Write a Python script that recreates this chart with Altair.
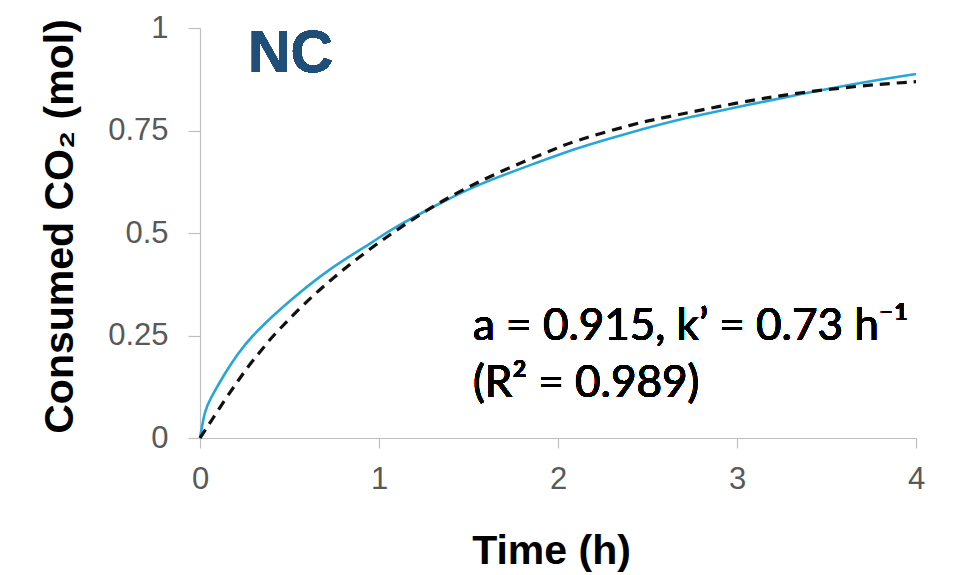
import altair as alt
import pandas as pd

# Measured CO2 consumption (solid blue)
meas_time = [0, 0.026, 0.063, 0.138, 0.212, 0.297, 0.409, 0.52, 0.669, 0.818, 0.967,
             1.097, 1.34, 1.562, 1.841, 2.12, 2.398, 2.677, 2.99, 3.36, 3.73, 4.0]
meas_co2 = [0, 0.059, 0.099, 0.156, 0.205, 0.250, 0.298, 0.341, 0.393, 0.438, 0.479,
            0.515, 0.572, 0.618, 0.665, 0.708, 0.744, 0.776, 0.806, 0.839, 0.869, 0.888]

# First-order kinetic fit (dashed black)
fit_time = [0, 0.063, 0.138, 0.212, 0.287, 0.361, 0.418, 0.558, 0.725, 0.893, 1.079,
            1.34, 1.657, 1.955, 2.12, 2.398, 2.62, 2.99, 3.36, 3.73, 4.0]
fit_co2 = [0, 0.042, 0.092, 0.139, 0.184, 0.224, 0.253, 0.316, 0.383, 0.442, 0.501,
           0.574, 0.645, 0.700, 0.727, 0.762, 0.784, 0.816, 0.842, 0.860, 0.869]

x_ticks = [0, 1, 2, 3, 4]
y_ticks = [0, 0.25, 0.5, 0.75, 1]

panel_label = "NC"
fit_line1 = "a = 0.915, k\u2019 = 0.73 h\u207b\u00b9"
fit_line2 = "(R\u00b2 = 0.989)"

meas = pd.DataFrame({"t": meas_time, "co2": meas_co2})
fit = pd.DataFrame({"t": fit_time, "co2": fit_co2})

axis_common = dict(
    domainColor="#BFBFBF",
    tickColor="#BFBFBF",
    domainWidth=1.2,
    tickWidth=1.2,
    grid=False,
    labelFont="Liberation Sans",
    labelFontSize=31,
    labelColor="#595959",
    titleFont="Liberation Sans",
    titleFontSize=41,
    titleFontWeight="bold",
    titleColor="#000000",
)

x_enc = alt.X(
    "t:Q",
    scale=alt.Scale(domain=[0, 4], nice=False, zero=False),
    axis=alt.Axis(
        values=x_ticks, format=".2~f", tickSize=10, labelPadding=16,
        title="Time (h)", titleX=351, titleY=125, titleBaseline="alphabetic",
        titleAlign="center", labelFlush=False, **axis_common,
    ),
)
y_enc = alt.Y(
    "co2:Q",
    scale=alt.Scale(domain=[0, 1], nice=False),
    axis=alt.Axis(
        values=y_ticks, format=".2~f", tickSize=12, labelPadding=20,
        title="Consumed CO\u2082 (mol)", titleX=-128, titleY=198, titleAngle=270,
        titleBaseline="alphabetic", titleAlign="center", labelFlush=False,
        **axis_common,
    ),
)

measured = alt.Chart(meas).mark_line(
    color="#27A6D9", strokeWidth=2.6, interpolate="natural"
).encode(x=x_enc, y=y_enc)

fitted = alt.Chart(fit).mark_line(
    color="#111111", strokeWidth=3.2, strokeDash=[10, 7], interpolate="natural"
).encode(x="t:Q", y="co2:Q")

label_nc = alt.Chart(meas).mark_text(
    text=panel_label, font="Liberation Sans", fontSize=59, fontWeight="bold",
    color="#1F4E79", align="left", baseline="alphabetic",
).encode(x=alt.datum(0.268), y=alt.datum(0.893))

note1 = alt.Chart(meas).mark_text(
    text=fit_line1, font="Lato", fontSize=44, color="#000000",
    align="left", baseline="alphabetic",
).encode(x=alt.datum(1.525), y=alt.datum(0.239))

note2 = alt.Chart(meas).mark_text(
    text=fit_line2, font="Lato", fontSize=44, color="#000000",
    align="left", baseline="alphabetic",
).encode(x=alt.datum(1.525), y=alt.datum(0.100))

chart = alt.layer(measured, fitted, label_nc, note1, note2).properties(
    width=716,
    height=410,
    autosize=alt.AutoSizeParams(type="none"),
    padding={"left": 200, "top": 28, "right": 37, "bottom": 137},
    background="white",
).configure_view(stroke=None)

chart.save("out.html", embed_options={"renderer": "svg", "actions": False})
